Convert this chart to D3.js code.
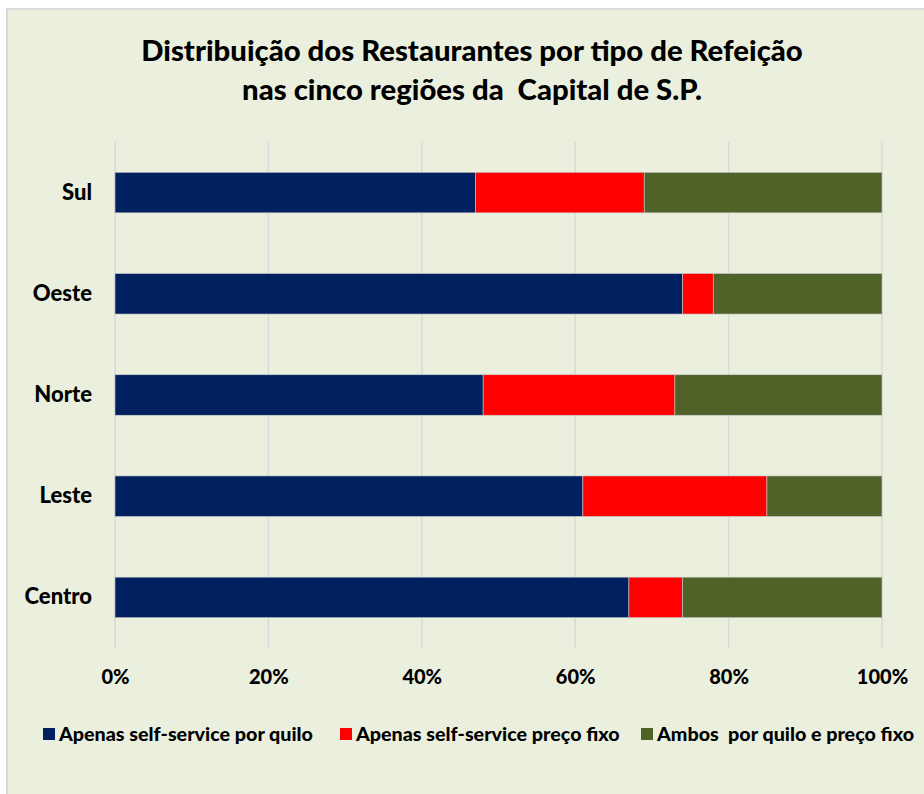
<!DOCTYPE html>
<html>
<head>
<meta charset="utf-8">
<script src="https://cdn.jsdelivr.net/npm/d3@7"></script>
<style>
	body { margin: 0; background: #ffffff; }
	text { font-family: Lato, 'Open Sans', sans-serif; font-weight: 900; fill: #000; white-space: pre; }
</style>
</head>
<body>
<div id="chart"></div>
<script>
// regions, top to bottom as drawn
const regions = ['Sul', 'Oeste', 'Norte', 'Leste', 'Centro']
const seriesNames = ['Apenas self-service por quilo', 'Apenas self-service preço fixo', 'Ambos  por quilo e preço fixo']
// percent of restaurants in each region
const porQuilo = [47, 74, 48, 61, 67]
const precoFixo = [22, 4, 25, 24, 7]
const ambos = [31, 22, 27, 15, 26]
const ticks = [0, 0.2, 0.4, 0.6, 0.8, 1]
const colors = ['#002060', '#FF0000', '#4F6228']

const width = 924
const height = 794
const margin = { top: 142, right: 42, bottom: 146, left: 115 }

const svg = d3.select('#chart')
	.append('svg')
	.attr('width', width)
	.attr('height', height)

// chart area background with border
svg.append('rect')
	.attr('x', 7)
	.attr('y', 9)
	.attr('width', width)
	.attr('height', height)
	.attr('fill', '#EBF0DE')
	.attr('stroke', '#D9D9D9')
	.attr('stroke-width', 2)

// build stacked rows from the arrays
const rows = regions.map((r, i) => {
	const total = porQuilo[i] + precoFixo[i] + ambos[i]
	return { region: r, s0: porQuilo[i] / total, s1: precoFixo[i] / total, s2: ambos[i] / total }
})
const stack = d3.stack().keys(['s0', 's1', 's2'])(rows)

const x = d3.scaleLinear()
	.domain([0, 1])
	.range([margin.left, width - margin.right])

const y = d3.scaleBand()
	.domain(regions)
	.range([margin.top, height - margin.bottom])
	.paddingInner(0.6)
	.paddingOuter(0.3)

// gridlines
svg.append('g')
	.selectAll('line')
	.data(ticks)
	.join('line')
	.attr('x1', d => x(d))
	.attr('x2', d => x(d))
	.attr('y1', margin.top)
	.attr('y2', height - margin.bottom)
	.attr('stroke', '#D9D9D9')
	.attr('stroke-width', 1.5)

// bars
svg.append('g')
	.selectAll('g')
	.data(stack)
	.join('g')
	.attr('fill', (d, i) => colors[i])
	.selectAll('rect')
	.data(d => d)
	.join('rect')
	.attr('x', d => x(d[0]))
	.attr('width', d => x(d[1]) - x(d[0]))
	.attr('y', d => y(d.data.region))
	.attr('height', y.bandwidth())
	.attr('stroke', '#c8c8c8')
	.attr('stroke-width', 0.6)

// x axis labels
const xAxis = d3.axisBottom(x)
	.tickValues(ticks)
	.tickFormat(d3.format('.0%'))
	.tickSize(0)
	.tickPadding(22)
svg.append('g')
	.attr('transform', `translate(0,${height - margin.bottom})`)
	.call(xAxis)
	.call(g => g.select('.domain').remove())
	.selectAll('text')
	.style('font-size', '20px')
	.style('font-family', 'Lato, sans-serif')
	.style('font-weight', '900')

// y axis labels
const yAxis = d3.axisLeft(y).tickSize(0).tickPadding(23)
svg.append('g')
	.attr('transform', `translate(${margin.left},0)`)
	.call(yAxis)
	.call(g => g.select('.domain').remove())
	.selectAll('text')
	.style('font-size', '22px')
	.style('font-family', 'Lato, sans-serif')
	.style('font-weight', '900')

// title
const title = svg.append('text')
	.attr('text-anchor', 'middle')
	.style('font-size', '29.3px')
title.append('tspan').attr('x', 472).attr('y', 61).text('Distribuição dos Restaurantes por tipo de Refeição')
title.append('tspan').attr('x', 472).attr('y', 100).text('nas cinco regiões da  Capital de S.P.')

// legend
const legendX = [43, 340, 641]
const legend = svg.append('g')
	.selectAll('g')
	.data(seriesNames)
	.join('g')
	.attr('transform', (d, i) => `translate(${legendX[i]},728)`)
legend.append('rect')
	.attr('width', 12)
	.attr('height', 12)
	.attr('fill', (d, i) => colors[i])
legend.append('text')
	.attr('x', 16)
	.attr('y', 13)
	.style('font-size', '19.7px')
	.text(d => d)
</script>
</body>
</html>
